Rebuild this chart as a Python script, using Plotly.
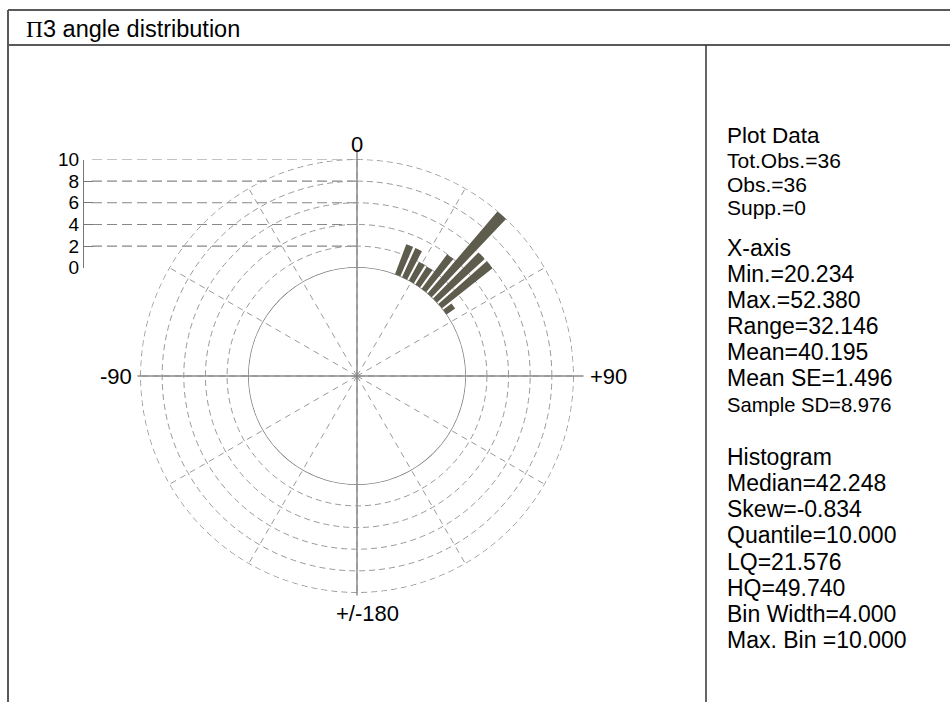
import plotly.graph_objects as go
import numpy as np

# ---- histogram data (angle bins, degrees) ----
bin_width = 4
bin_left = [20, 24, 28, 32, 36, 40, 44, 48, 52]
counts = [3, 3, 2, 2, 4, 10, 6, 6, 1]
bin_center = [b + bin_width / 2 for b in bin_left]

# radial count scale
scale_ticks = [0, 2, 4, 6, 8, 10]
scale_max = 10

# angle labels around the rose
angle_labels = ["0", "+90", "+/-180", "-90"]

# summary panel
plot_data_lines = ["Plot Data", "Tot.Obs.=36", "Obs.=36", "Supp.=0"]
xaxis_lines = ["X-axis", "Min.=20.234", "Max.=52.380", "Range=32.146",
               "Mean=40.195", "Mean SE=1.496", "Sample SD=8.976"]
histogram_lines = ["Histogram", "Median=42.248", "Skew=-0.834", "Quantile=10.000",
                   "LQ=21.576", "HQ=49.740", "Bin Width=4.000", "Max. Bin =10.000"]

W, H = 950, 702


def px(x):
    return x / W


def py(y):
    return 1 - y / H


# rose geometry (pixels): zero ring radius and pixels per count
CX, CY = 357, 376
R_ZERO = 108.25
K = 10.825
R_PAD = 0.05                      # headroom so the outer ring is not clipped
R_OUT = R_ZERO + K * (scale_max + R_PAD)
HOLE = R_ZERO / R_OUT
R_TEN = R_ZERO + K * scale_max

dom_x = [px(CX - R_OUT), px(CX + R_OUT)]
dom_y = [py(CY + R_OUT), py(CY - R_OUT)]

FONT = "Liberation Sans, Arial, sans-serif"
GRID = "#9a9a9a"
AXIS = "#8a8a8a"
RING_DASH = "6px,4px"

fig = go.Figure()

# centre point of the spokes
fig.add_trace(go.Scatterpolar(r=[0], theta=[0], mode="markers",
                              marker=dict(size=3, color="#666"),
                              subplot="polar", hoverinfo="skip", showlegend=False))

ring_theta = np.linspace(0, 360, 361)
# inner zero circle of the count scale
fig.add_trace(go.Scatterpolar(r=[scale_ticks[0]] * len(ring_theta), theta=ring_theta, mode="lines",
                              line=dict(color="#7a7a7a", width=1.3),
                              subplot="polar2", hoverinfo="skip", showlegend=False))
# outer ring at the top of the count scale
fig.add_trace(go.Scatterpolar(r=[scale_max] * len(ring_theta), theta=ring_theta, mode="lines",
                              line=dict(color=GRID, width=1, dash=RING_DASH),
                              subplot="polar2", hoverinfo="skip", showlegend=False))

# histogram bars
fig.add_trace(go.Barpolar(r=counts, theta=bin_center, width=3.0,
                          marker=dict(color="#5d5c4d", line=dict(width=0)),
                          subplot="polar2", showlegend=False))

# dashed guides from the count scale
gx, gy = [], []
for t in scale_ticks[1:]:
    gx += [0, 1, None]
    gy += [t, t, None]
fig.add_trace(go.Scatter(x=gx, y=gy, mode="lines",
                         line=dict(color="#888888", width=1.1, dash="10px,5px"),
                         hoverinfo="skip", showlegend=False))

fig.update_layout(
    width=W, height=H, autosize=False,
    margin=dict(l=0, r=0, t=0, b=0, pad=0, autoexpand=False),
    paper_bgcolor="white", plot_bgcolor="rgba(0,0,0,0)",
    showlegend=False,
    polar=dict(
        domain=dict(x=dom_x, y=dom_y),
        bgcolor="rgba(0,0,0,0)",
        radialaxis=dict(range=[0, 1], visible=False, showgrid=False),
        angularaxis=dict(rotation=90, direction="clockwise", dtick=30,
                         showline=False, showticklabels=False, ticks="",
                         showgrid=True, gridcolor=GRID, gridwidth=1, griddash="6px,5px"),
    ),
    polar2=dict(
        domain=dict(x=dom_x, y=dom_y),
        hole=HOLE,
        bgcolor="rgba(0,0,0,0)",
        radialaxis=dict(range=[0, scale_max + R_PAD], tickvals=scale_ticks[1:-1],
                        showticklabels=False, ticks="", showline=False,
                        showgrid=True, gridcolor=GRID, gridwidth=1, griddash=RING_DASH),
        angularaxis=dict(rotation=90, direction="clockwise",
                         showline=False, showticklabels=False, ticks="", showgrid=False),
    ),
    xaxis=dict(domain=[px(92), px(CX)], range=[0, 1], visible=False),
    yaxis=dict(domain=[py(CY - R_ZERO), py(CY - R_TEN)], range=[0, scale_max],
               anchor="free", position=px(83), side="left",
               tickvals=scale_ticks, ticks="inside", ticklen=9, tickcolor="#777",
               tickwidth=1.2, showline=True, linecolor="#777", linewidth=1.2,
               showgrid=False, zeroline=False, automargin=False,
               tickfont=dict(family=FONT, size=19, color="black")),
)

shapes = []
# solid cross through the rose
shapes.append(dict(type="line", xref="paper", yref="paper",
                   x0=px(CX), x1=px(CX), y0=py(CY - R_TEN - 10), y1=py(CY + R_TEN + 3),
                   line=dict(color=AXIS, width=1.5)))
shapes.append(dict(type="line", xref="paper", yref="paper",
                   x0=px(CX - R_TEN - 3), x1=px(CX + R_TEN + 10), y0=py(CY), y1=py(CY),
                   line=dict(color=AXIS, width=1.5)))
# frame
frame = "#5a5a5a"
shapes += [
    dict(type="line", xref="paper", yref="paper", x0=px(8), x1=1, y0=py(10), y1=py(10),
         line=dict(color=frame, width=2)),
    dict(type="line", xref="paper", yref="paper", x0=px(8), x1=px(8), y0=py(10), y1=0,
         line=dict(color=frame, width=2)),
    dict(type="line", xref="paper", yref="paper", x0=px(8), x1=1, y0=py(45), y1=py(45),
         line=dict(color=frame, width=2)),
    dict(type="line", xref="paper", yref="paper", x0=px(706), x1=px(706), y0=py(45), y1=0,
         line=dict(color="#333", width=1.5)),
]
fig.update_layout(shapes=shapes)

ann = []
# title
ann.append(dict(x=px(24), y=py(29), xref="paper", yref="paper", xanchor="left", yanchor="middle",
                showarrow=False,
                text='<span style="font-family:Liberation Serif, Times New Roman, serif">Π</span>3 angle distribution',
                font=dict(family=FONT, size=23.5, color="black")))

# angle labels
lab_pos = [
    (CX, CY - R_TEN - 15, "center"),
    (CX + R_TEN + 14, CY, "left"),
    (CX + 10.5, CY + R_TEN + 21, "center"),
    (CX - R_TEN - 7, CY, "right"),
]
for txt, (x, y, xa) in zip(angle_labels, lab_pos):
    ann.append(dict(x=px(x), y=py(y), xref="paper", yref="paper", xanchor=xa, yanchor="middle",
                    showarrow=False, text=txt, font=dict(family=FONT, size=22, color="black")))

# summary panel
panel_x = px(725)
rows = [(plot_data_lines[0], 135, 22.5)]
rows += [(t, y, 21) for t, y in zip(plot_data_lines[1:], [160.5, 184, 207.5])]
rows += [(t, y, 20.2 if t.startswith("Sample SD") else 23)
         for t, y in zip(xaxis_lines, [247.7, 274, 300, 325.7, 352.3, 378.3, 405])]
rows += [(t, y, 23)
         for t, y in zip(histogram_lines, [457.3, 483.3, 509.3, 535, 561.7, 588.3, 614.3, 640])]
for txt, y, size in rows:
    ann.append(dict(x=panel_x, y=py(y), xref="paper", yref="paper", xanchor="left", yanchor="middle",
                    showarrow=False, text=txt, font=dict(family=FONT, size=size, color="black")))

fig.update_layout(annotations=ann)

fig.write_html("out.html")
